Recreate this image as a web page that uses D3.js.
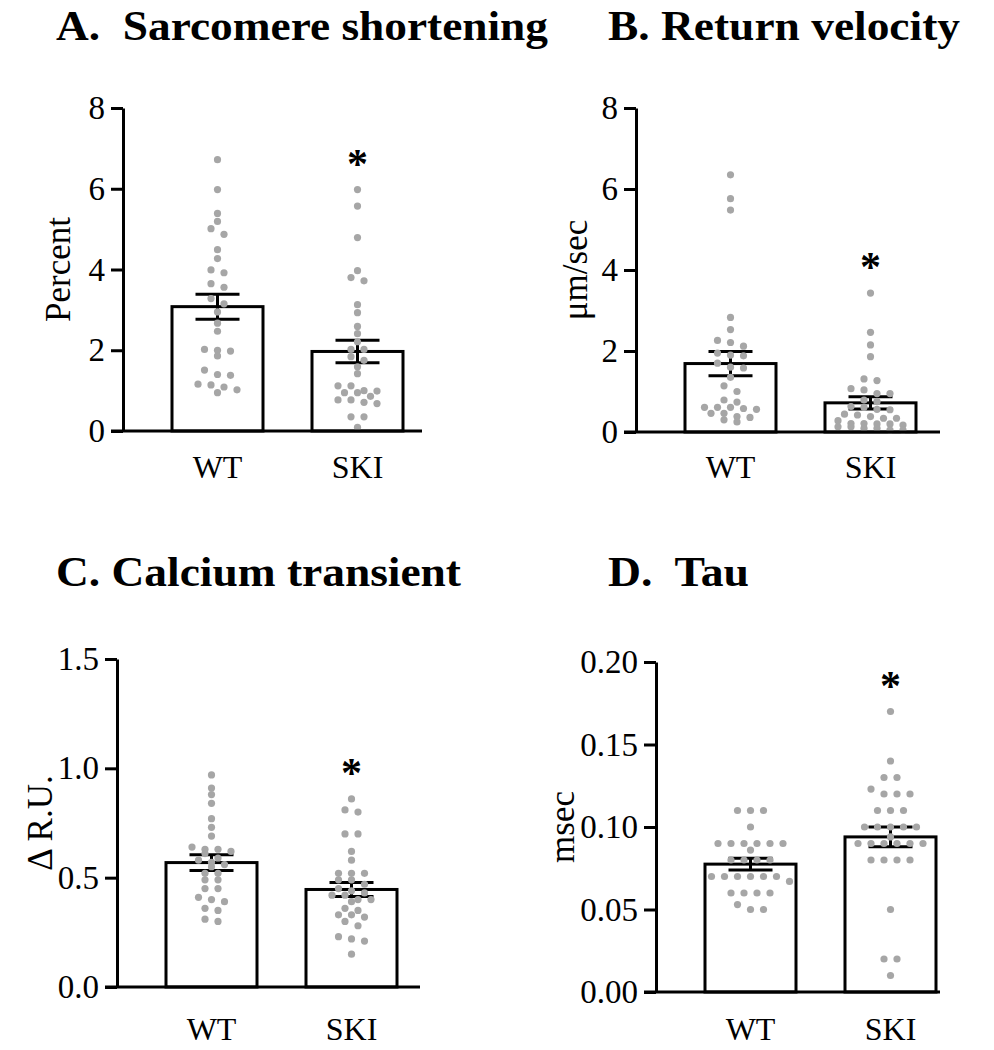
<!DOCTYPE html>
<html>
<head>
<meta charset="utf-8">
<script src="https://cdn.jsdelivr.net/npm/d3@7"></script>
<style>
  body { margin: 0; background: #ffffff; }
  text { font-family: "Liberation Serif", "Times New Roman", serif; }
</style>
</head>
<body>
<div class="graph"></div>
<script>

// data

var groups = ["WT", "SKI"];

// A. sarcomere shortening (percent)
var shortWT = [6.72, 5.98, 5.39, 5.19, 5.01, 4.87, 4.49, 4.27, 3.99, 3.92, 3.65, 3.56, 3.28, 3.15, 2.95,
	2.67, 2.47, 2.02, 2.00, 1.98, 1.86, 1.51, 1.40, 1.38, 1.16, 1.14, 1.09, 1.02, 0.95];
var shortSKI = [5.98, 5.57, 4.79, 3.97, 3.80, 3.72, 3.13, 2.93, 2.59, 2.41, 2.21, 2.02, 2.02, 1.84, 1.75,
	1.59, 1.42, 1.12, 1.12, 1.00, 0.99, 0.95, 0.95, 0.86, 0.77, 0.77, 0.71, 0.68, 0.35, 0.35, 0.09];
var shortMean = [3.08, 1.97];
var shortSem = [0.31, 0.28];
var shortTicks = [0, 2, 4, 6, 8];

// B. return velocity (um/sec)
var returnWT = [6.35, 5.76, 5.48, 2.83, 2.53, 2.26, 2.21, 2.12, 1.95, 1.90, 1.88, 1.70, 1.60, 1.58, 1.35,
	1.14, 1.00, 0.79, 0.74, 0.61, 0.61, 0.61, 0.58, 0.56, 0.46, 0.46, 0.38, 0.36, 0.30, 0.25];
var returnSKI = [3.43, 2.46, 2.15, 1.86, 1.31, 1.27, 1.07, 1.04, 0.95, 0.95, 0.79, 0.75, 0.63, 0.61, 0.56,
	0.55, 0.44, 0.42, 0.38, 0.34, 0.34, 0.28, 0.21, 0.21, 0.20, 0.20, 0.17, 0.13, 0.13, 0.09, 0.09, 0.05, 0.05];
var returnMean = [1.69, 0.72];
var returnSem = [0.30, 0.15];
var returnTicks = [0, 2, 4, 6, 8];

// C. calcium transient (delta R.U.)
var calciumWT = [0.97, 0.91, 0.88, 0.84, 0.77, 0.73, 0.69, 0.64, 0.63, 0.63, 0.62, 0.61, 0.59, 0.58, 0.57,
	0.56, 0.55, 0.52, 0.52, 0.49, 0.49, 0.45, 0.45, 0.41, 0.40, 0.39, 0.36, 0.35, 0.31, 0.30];
var calciumSKI = [0.86, 0.81, 0.80, 0.70, 0.70, 0.62, 0.58, 0.52, 0.52, 0.52, 0.49, 0.49, 0.47, 0.45, 0.44,
	0.43, 0.42, 0.42, 0.40, 0.40, 0.39, 0.36, 0.35, 0.33, 0.33, 0.32, 0.30, 0.28, 0.23, 0.22, 0.21, 0.15];
var calciumMean = [0.569, 0.446];
var calciumSem = [0.036, 0.032];
var calciumTicks = [0, 0.5, 1.0, 1.5];

// D. tau (msec)
var tauWT = [0.11, 0.11, 0.11, 0.10, 0.09, 0.09, 0.09, 0.09, 0.09, 0.09, 0.086, 0.08, 0.08, 0.08, 0.08,
	0.07, 0.07, 0.07, 0.07, 0.07, 0.07, 0.067, 0.06, 0.06, 0.06, 0.06, 0.053, 0.05, 0.05];
var tauSKI = [0.17, 0.14, 0.13, 0.13, 0.123, 0.12, 0.12, 0.12, 0.11, 0.11, 0.11, 0.10, 0.10, 0.10, 0.10,
	0.10, 0.094, 0.09, 0.09, 0.09, 0.09, 0.09, 0.09, 0.08, 0.08, 0.08, 0.08, 0.05, 0.02, 0.02, 0.01];
var tauMean = [0.0775, 0.094];
var tauSem = [0.0036, 0.006];
var tauTicks = [0, 0.05, 0.10, 0.15, 0.20];

var titles = ["A.  Sarcomere shortening", "B. Return velocity", "C. Calcium transient", "D.  Tau"];
var yLabels = ["Percent", "\u03bcm/sec", "\u0394 R.U.", "msec"];
var tickFormats = ["d", "d", ".1f", ".2f"];

//prepare SVG

var svgWidth = 994;
var svgHeight = 1050;

var svg = d3.select("div.graph")
	.append("svg")
	.attr("width", svgWidth)
	.attr("height", svgHeight)
	.style("background-color", "#ffffff");

// layout of the four panels
var layout = [
	{x0: 123, yTop: 108, yBot: 431, xEnd: 422, titleX: 56, titleY: 40, titleW: 492, labX: 58, catY: 478},
	{x0: 636, yTop: 108, yBot: 432, xEnd: 940, titleX: 608, titleY: 40, titleW: 352, labX: 575, catY: 478},
	{x0: 117, yTop: 659, yBot: 987, xEnd: 420, titleX: 56, titleY: 586, titleW: 405, labX: 40, catY: 1040},
	{x0: 656, yTop: 662, yBot: 992, xEnd: 940, titleX: 608, titleY: 586, titleW: 141, labX: 562, catY: 1040}
];

var panels = [
	{wt: shortWT, ski: shortSKI, mean: shortMean, sem: shortSem, ticks: shortTicks},
	{wt: returnWT, ski: returnSKI, mean: returnMean, sem: returnSem, ticks: returnTicks},
	{wt: calciumWT, ski: calciumSKI, mean: calciumMean, sem: calciumSem, ticks: calciumTicks},
	{wt: tauWT, ski: tauSKI, mean: tauMean, sem: tauSem, ticks: tauTicks}
];

var dotR = 3.6;
var dotStep = 13;
var rowGap = 6;

// GraphPad-like scatter: bin dots into rows, spread each row around the centre
function swarm(values, y) {
	var sorted = values.slice().sort(function(a, b) { return b - a; });
	var rows = [];
	sorted.forEach(function(v) {
		var last = rows[rows.length - 1];
		if (last && y(v) - y(last[0]) < rowGap) last.push(v);
		else rows.push([v]);
	});
	var out = [];
	rows.forEach(function(r) {
		r.forEach(function(v, i) {
			out.push({v: v, dx: (i - (r.length - 1) / 2) * dotStep});
		});
	});
	return out;
}

function renderPanel(p, L, i) {

	var g = svg.append("g");

	var y = d3.scaleLinear()
		.domain([0, d3.max(p.ticks)])
		.range([L.yBot, L.yTop]);

	var x = d3.scaleBand()
		.domain(groups)
		.range([L.x0, L.x0 + 329])
		.paddingInner(0.35)
		.paddingOuter(0.35);

	// title
	g.append("text")
		.attr("x", L.titleX)
		.attr("y", L.titleY)
		.attr("textLength", L.titleW)
		.attr("lengthAdjust", "spacingAndGlyphs")
		.style("white-space", "pre")
		.style("font-size", "43px")
		.style("font-weight", "bold")
		.text(titles[i]);

	// bars
	g.selectAll("rect.bar")
		.data(groups)
		.enter()
		.append("rect")
		.attr("class", "bar")
		.attr("x", function(d) { return x(d); })
		.attr("width", x.bandwidth())
		.attr("y", function(d, n) { return y(p.mean[n]); })
		.attr("height", function(d, n) { return y(0) - y(p.mean[n]); })
		.attr("fill", "#ffffff")
		.attr("stroke", "#000000")
		.attr("stroke-width", 3);

	// error bars
	var capW = 44;
	groups.forEach(function(grp, n) {
		var cx = x(grp) + x.bandwidth() / 2;
		var hi = y(p.mean[n] + p.sem[n]);
		var lo = y(p.mean[n] - p.sem[n]);
		var eb = g.append("g").attr("stroke", "#000000").attr("stroke-width", 3);
		eb.append("line").attr("x1", cx).attr("x2", cx).attr("y1", hi).attr("y2", lo);
		eb.append("line").attr("x1", cx - capW / 2).attr("x2", cx + capW / 2).attr("y1", hi).attr("y2", hi);
		eb.append("line").attr("x1", cx - capW / 2).attr("x2", cx + capW / 2).attr("y1", lo).attr("y2", lo);
	});

	// dots
	[p.wt, p.ski].forEach(function(vals, n) {
		var cx = x(groups[n]) + x.bandwidth() / 2;
		g.append("g").selectAll("circle")
			.data(swarm(vals, y))
			.enter()
			.append("circle")
			.attr("cx", function(d) { return cx + d.dx; })
			.attr("cy", function(d) { return y(d.v); })
			.attr("r", dotR)
			.attr("fill", "#a6a6a6");
	});

	// significance star over SKI
	g.append("text")
		.attr("x", x("SKI") + x.bandwidth() / 2)
		.attr("y", y(d3.max(p.ski)) - 12)
		.attr("text-anchor", "middle")
		.style("font-size", "42px")
		.style("font-weight", "bold")
		.text("*");

	// y axis
	var yAxis = d3.axisLeft(y)
		.tickValues(p.ticks)
		.tickFormat(d3.format(tickFormats[i]))
		.tickSize(12)
		.tickSizeOuter(0)
		.tickPadding(6);

	var ga = g.append("g")
		.attr("transform", "translate(" + L.x0 + ",0)")
		.call(yAxis);
	ga.selectAll("path, line").attr("stroke", "#000000").attr("stroke-width", 3);
	ga.selectAll("text")
		.style("font-family", "'Liberation Serif', serif")
		.style("font-size", "33px")
		.attr("fill", "#000000");

	// x axis line
	g.append("line")
		.attr("x1", L.x0 - 12)
		.attr("x2", L.xEnd)
		.attr("y1", y(0))
		.attr("y2", y(0))
		.attr("stroke", "#000000")
		.attr("stroke-width", 3);

	// category labels
	var xAxis = d3.axisBottom(x).tickSize(0).tickPadding(0);
	var gx = g.append("g")
		.attr("transform", "translate(0," + L.catY + ")")
		.call(xAxis);
	gx.select(".domain").remove();
	gx.selectAll("text")
		.attr("dy", 0)
		.style("font-family", "'Liberation Serif', serif")
		.style("font-size", "32px")
		.attr("fill", "#000000");

	// y label
	g.append("text")
		.attr("transform", "translate(" + L.labX + "," + ((L.yTop + L.yBot) / 2) + ") rotate(-90)")
		.attr("text-anchor", "middle")
		.attr("dy", "0.35em")
		.style("font-size", "35px")
		.text(yLabels[i]);
}

panels.forEach(function(p, i) { renderPanel(p, layout[i], i); });

</script>
</body>
</html>
